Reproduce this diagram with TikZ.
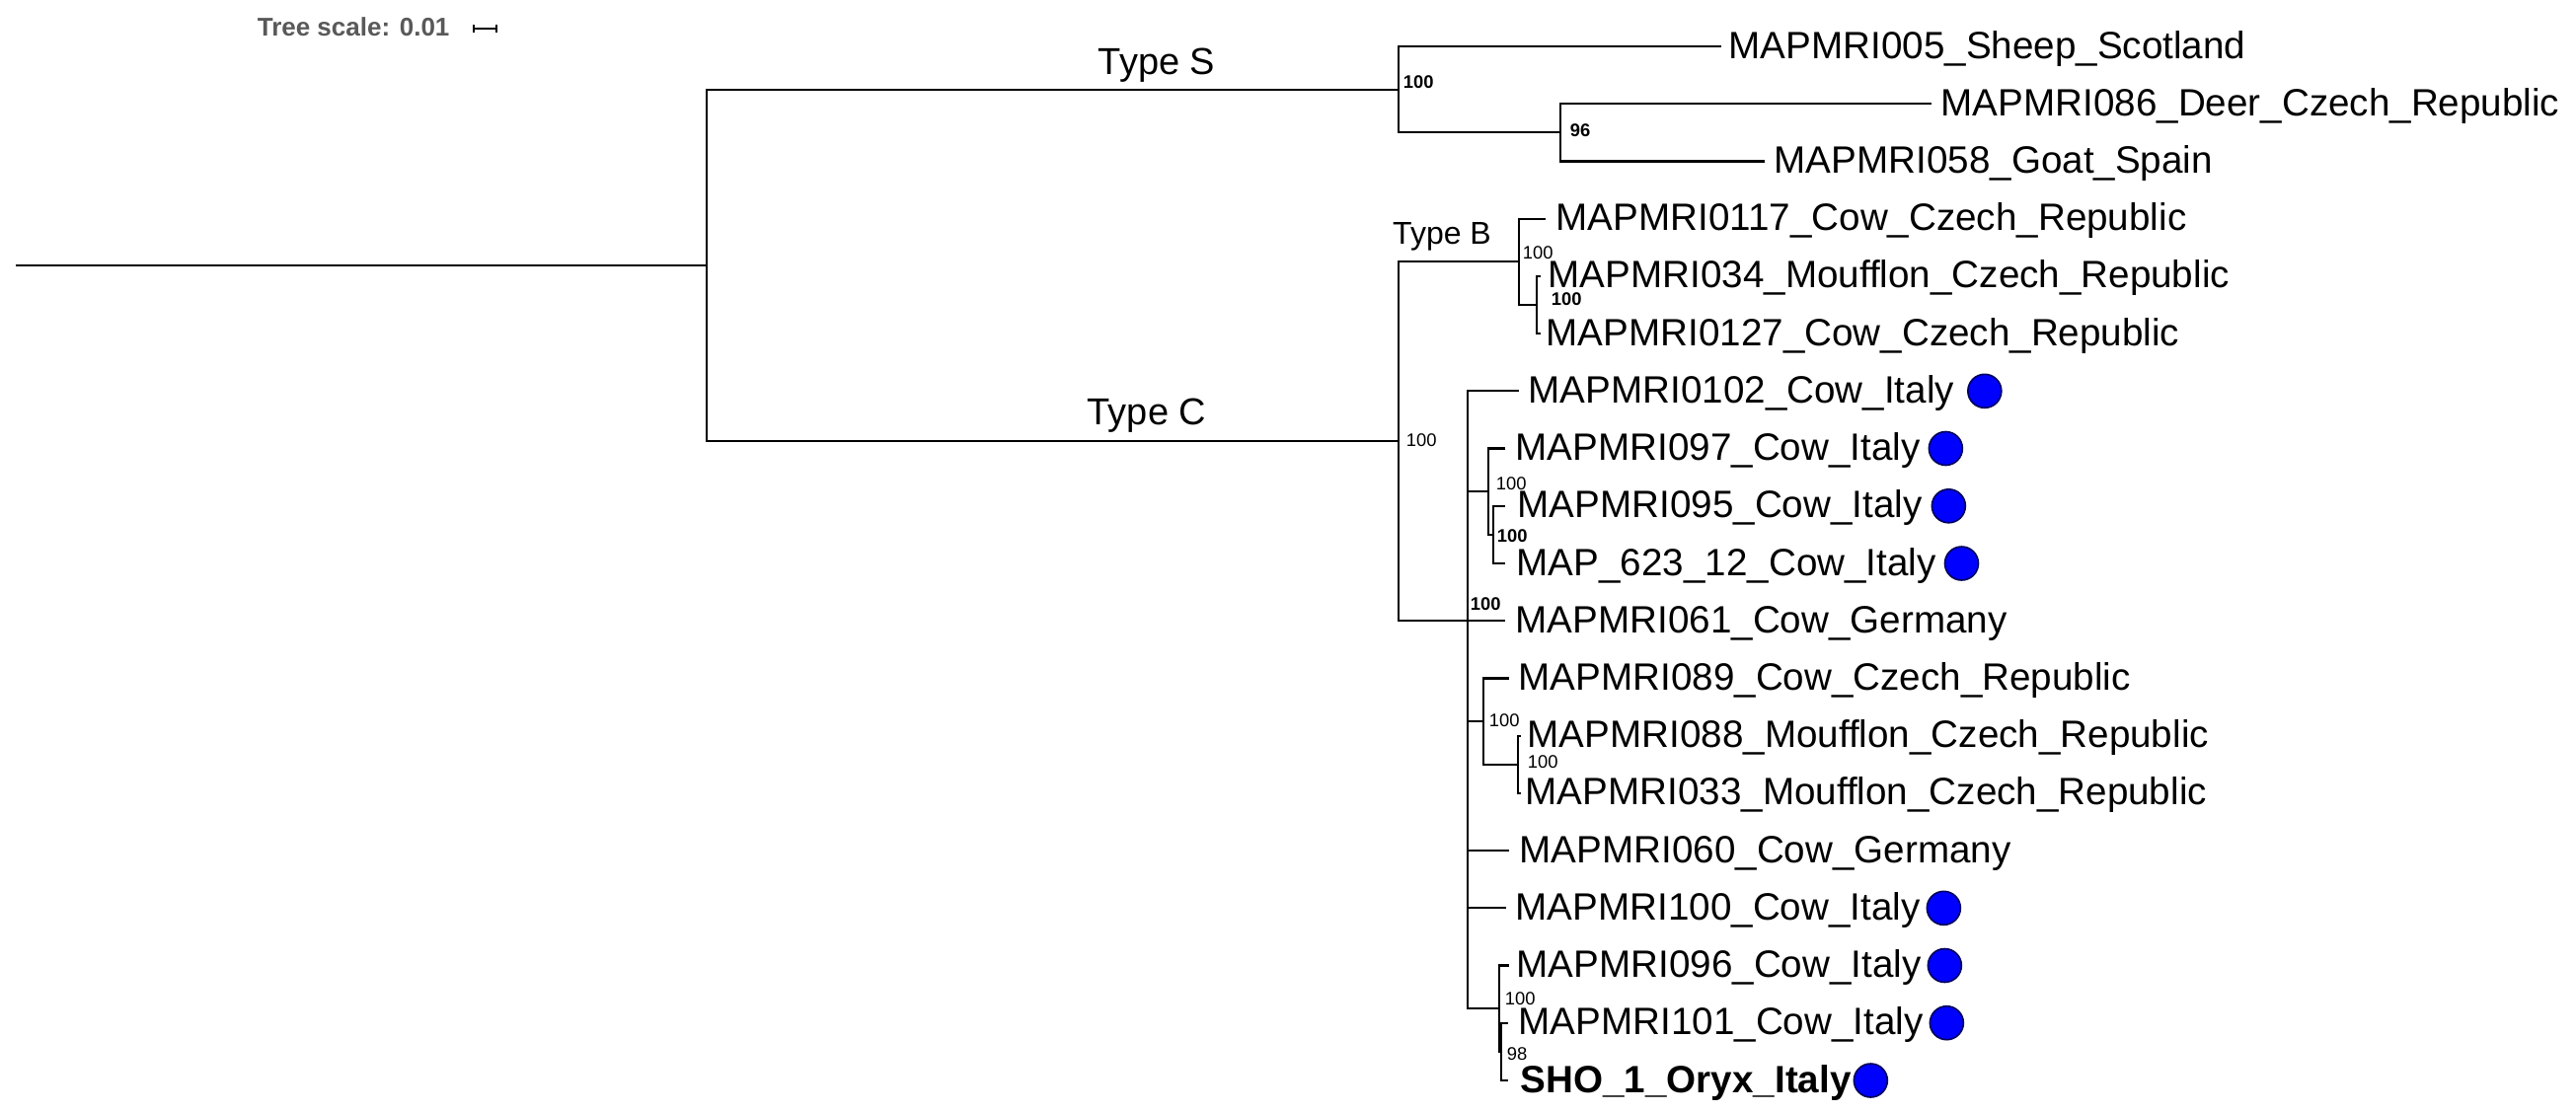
\documentclass[tikz,border=0pt]{standalone}
\usepackage{fontspec}
\setmainfont{Liberation Sans}
\usetikzlibrary{calc}
\begin{document}
\begin{tikzpicture}[x=0.25pt,y=-0.25pt,
  edge/.style={line width=0.55pt, draw=black},
  leaf/.style={anchor=base west, inner sep=0pt, font=\fontsize{9.65}{11}\selectfont},
  leafbold/.style={leaf, font=\fontsize{9.65}{11}\selectfont\bfseries},
  boot/.style={anchor=west, inner sep=0pt, font=\fontsize{4.6}{5}\selectfont\bfseries},
  bootl/.style={anchor=west, inner sep=0pt, font=\fontsize{4.6}{5}\selectfont},
  typelab/.style={anchor=base, inner sep=0pt, font=\fontsize{9.5}{11}\selectfont},
  typelabs/.style={anchor=base, inner sep=0pt, font=\fontsize{8}{10}\selectfont},
  dot/.style={circle, fill=blue, draw=blue!35!black, line width=0.4pt, minimum size=8.5pt, inner sep=0pt},
  scalebar/.style={line width=0.4pt, draw=black}
]
\useasboundingbox (0,0) rectangle (2610,1126);

% ---------- tree scale ----------
\node[anchor=west, inner sep=0pt, text=black!65, font=\fontsize{6.5}{8}\selectfont\bfseries] (ts) at (260,27) {Tree scale: 0.01};
\coordinate (sb1) at (480,29);
\coordinate (sb2) at (503,29);
\draw[scalebar] (sb1) -- (sb2);
\draw[scalebar] ($(sb1)+(0,-4)$) -- ($(sb1)+(0,4)$);
\draw[scalebar] ($(sb2)+(0,-4)$) -- ($(sb2)+(0,4)$);

% ---------- internal nodes ----------
\coordinate (r0)   at (16,269);
\coordinate (root) at (716,269);
\coordinate (nS)   at (1417,90.65);
\coordinate (nDG)  at (1581,134.3);
\coordinate (nC)   at (1417,447.3);
\coordinate (nB)   at (1539,265.35);
\coordinate (nB2)  at (1557,309);
\coordinate (nBig) at (1487,629.2);
\coordinate (n097) at (1508,498.2);
\coordinate (n095) at (1513,541.9);
\coordinate (n089) at (1503,731.1);
\coordinate (n088) at (1538,774.75);
\coordinate (n096) at (1519,1022.2);
\coordinate (n101) at (1521,1065.85);

% ---------- leaf tips ----------
\coordinate (t0)  at (1744,47.0);
\coordinate (t1)  at (1957,105.2);
\coordinate (t2)  at (1788,163.4);
\coordinate (t3)  at (1566,221.7);
\coordinate (t4)  at (1561,279.9);
\coordinate (t5)  at (1561,338.1);
\coordinate (t6)  at (1539,396.3);
\coordinate (t7)  at (1525,454.5);
\coordinate (t8)  at (1525,512.8);
\coordinate (t9)  at (1525,571.0);
\coordinate (t10) at (1525,629.2);
\coordinate (t11) at (1529,687.4);
\coordinate (t12) at (1541,745.6);
\coordinate (t13) at (1541,803.9);
\coordinate (t14) at (1529,862.1);
\coordinate (t15) at (1526,920.3);
\coordinate (t16) at (1529,978.5);
\coordinate (t17) at (1528,1036.7);
\coordinate (t18) at (1528,1095.0);

% ---------- edges ----------
\draw[edge] (r0) -- (root);
\draw[edge] (root) |- (nS);
\draw[edge] (root) |- (nC);
\draw[edge] (nS) |- (t0);
\draw[edge] (nS) |- (nDG);
\draw[edge] (nDG) |- (t1);
\draw[edge] (nDG) |- (t2);
\draw[edge] (nC) |- (nB);
\draw[edge] (nC) |- (nBig);
\draw[edge] (nB) |- (t3);
\draw[edge] (nB) |- (nB2);
\draw[edge] (nB2) |- (t4);
\draw[edge] (nB2) |- (t5);
\draw[edge] (nBig) |- (t6);
\draw[edge] (nBig) |- (n097);
\draw[edge] (n097) |- (t7);
\draw[edge] (n097) |- (n095);
\draw[edge] (n095) |- (t8);
\draw[edge] (n095) |- (t9);
\draw[edge] (nBig) -- (t10);
\draw[edge] (nBig) |- (n089);
\draw[edge] (n089) |- (t11);
\draw[edge] (n089) |- (n088);
\draw[edge] (n088) |- (t12);
\draw[edge] (n088) |- (t13);
\draw[edge] (nBig) |- (t14);
\draw[edge] (nBig) |- (t15);
\draw[edge] (nBig) |- (n096);
\draw[edge] (n096) |- (t16);
\draw[edge] (n096) |- (n101);
\draw[edge] (n101) |- (t17);
\draw[edge] (n101) |- (t18);

% ---------- clade labels ----------
\node[typelab]  (typeS) at (1172,75)  {Type S};
\node[typelab]  (typeC) at (1162,430) {Type C};
\node[typelabs] (typeB) at (1461,247) {Type B};

% ---------- bootstrap values ----------
\node[boot]  (bS)   at (1421,83)   {100};
\node[boot]  (bDG)  at (1590,132)  {96};
\node[bootl] (bB)   at (1542,256)  {100};
\node[boot]  (bB2)  at (1571,303)  {100};
\node[bootl] (bC)   at (1424,446)  {100};
\node[bootl] (b097) at (1515,490)  {100};
\node[boot]  (b095) at (1516,543)  {100};
\node[boot]  (bBig) at (1489,612)  {100};
\node[bootl] (b089) at (1508,730)  {100};
\node[bootl] (b088) at (1547,772)  {100};
\node[bootl] (b096) at (1524,1012) {100};
\node[bootl] (b101) at (1526,1068) {98};

% ---------- leaf labels ----------
\node[leaf] (L0)  at (1751,59)     {MAPMRI005\_Sheep\_Scotland};
\node[leaf] (L1)  at (1966,117.2)  {MAPMRI086\_Deer\_Czech\_Republic};
\node[leaf] (L2)  at (1797,175.4)  {MAPMRI058\_Goat\_Spain};
\node[leaf] (L3)  at (1576,233.7)  {MAPMRI0117\_Cow\_Czech\_Republic};
\node[leaf] (L4)  at (1568,291.9)  {MAPMRI034\_Moufflon\_Czech\_Republic};
\node[leaf] (L5)  at (1566,350.1)  {MAPMRI0127\_Cow\_Czech\_Republic};
\node[leaf] (L6)  at (1548,408.3)  {MAPMRI0102\_Cow\_Italy};
\node[leaf] (L7)  at (1535,466.5)  {MAPMRI097\_Cow\_Italy};
\node[leaf] (L8)  at (1537,524.8)  {MAPMRI095\_Cow\_Italy};
\node[leaf] (L9)  at (1536,583.0)  {MAP\_623\_12\_Cow\_Italy};
\node[leaf] (L10) at (1535,641.2)  {MAPMRI061\_Cow\_Germany};
\node[leaf] (L11) at (1538,699.4)  {MAPMRI089\_Cow\_Czech\_Republic};
\node[leaf] (L12) at (1547,757.6)  {MAPMRI088\_Moufflon\_Czech\_Republic};
\node[leaf] (L13) at (1545,815.9)  {MAPMRI033\_Moufflon\_Czech\_Republic};
\node[leaf] (L14) at (1539,874.1)  {MAPMRI060\_Cow\_Germany};
\node[leaf] (L15) at (1535,932.3)  {MAPMRI100\_Cow\_Italy};
\node[leaf] (L16) at (1536,990.5)  {MAPMRI096\_Cow\_Italy};
\node[leaf] (L17) at (1538,1048.7) {MAPMRI101\_Cow\_Italy};
\node[leafbold] (L18) at (1540,1107.0) {SHO\_1\_Oryx\_Italy};

% ---------- markers ----------
\node[dot] (D6)  at ($(L6.east |- t6)+(30,0)$) {};
\node[dot] (D7)  at ($(L7.east |- t7)+(25,0)$) {};
\node[dot] (D8)  at ($(L8.east |- t8)+(26,0)$) {};
\node[dot] (D9)  at ($(L9.east |- t9)+(25,0)$) {};
\node[dot] (D15) at ($(L15.east |- t15)+(23,0)$) {};
\node[dot] (D16) at ($(L16.east |- t16)+(23,0)$) {};
\node[dot] (D17) at ($(L17.east |- t17)+(23,0)$) {};
\node[dot] (D18) at ($(L18.east |- t18)+(19,0)$) {};
\end{tikzpicture}
\end{document}
